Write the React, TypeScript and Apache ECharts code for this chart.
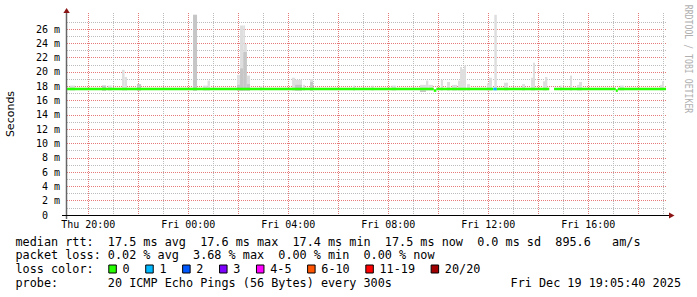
import React, { useEffect, useRef } from 'react';
import * as echarts from 'echarts';

// ---- axis extents (hours since Thu 00:00, seconds in ms) ----
const X_MIN = 19.148;
const X_MAX = 43.148;
const Y_MAX = 28.25;

const xLabelHours = [20, 24, 28, 32, 36, 40];
const xTickLabels = ['Thu 20:00', 'Fri 00:00', 'Fri 04:00', 'Fri 08:00', 'Fri 12:00', 'Fri 16:00'];
const xMajorGridHours = [20, 22, 24, 26, 28, 30, 32, 34, 36, 38, 40, 42];
const xMinorGridHours = [21, 23, 25, 27, 29, 31, 33, 35, 37, 39, 41, 43];

const yLabelValues = [0, 2, 4, 6, 8, 10, 12, 14, 16, 18, 20, 22, 24, 26];
const yTickLabels = ['0  ', '2 m', '4 m', '6 m', '8 m', '10 m', '12 m', '14 m', '16 m', '18 m', '20 m', '22 m', '24 m', '26 m'];
const yMinorGridValues = [1, 3, 5, 7, 9, 11, 13, 15, 17, 19, 21, 23, 25, 27];

// ---- loss colours ----
const lossColors = ['#26ff00', '#00b8ff', '#0059ff', '#7e00ff', '#ff00ff', '#ff5500', '#ff0000', '#a10000'];
const lossLabels = ['0', '1', '2', '3', '4-5', '6-10', '11-19', '20/20'];

// ---- median rtt segments: [start h, end h, median ms, loss colour index] ----
const medianSegments: [number, number, number, number][] = [
  [19.15, 33.82, 17.62, 0],
  [33.82, 33.92, 17.4, 0],
  [33.92, 36.2, 17.62, 0],
  [36.2, 36.34, 17.62, 1],
  [36.34, 38.44, 17.62, 0],
  [38.63, 41.1, 17.62, 0],
  [41.1, 41.18, 17.4, 0],
  [41.18, 43.11, 17.62, 0],
];

// ---- smoke: [start h, end h, low ms, inner ms, high ms] ----
const smokeBands: [number, number, number, number, number][] = [
  [19.27, 19.47, 17.4, 17.4, 18.1],
  [20.55, 20.71, 17.4, 18.1, 18.1],
  [20.79, 20.95, 17.4, 17.4, 18.1],
  [21.35, 21.45, 17.4, 17.4, 20.3],
  [21.45, 21.55, 17.4, 17.4, 19.3],
  [21.95, 22.11, 17.4, 18.3, 18.3],
  [24.19, 24.35, 17.4, 28.0, 28.0],
  [24.59, 24.77, 17.4, 17.4, 18.1],
  [24.77, 24.87, 17.4, 17.4, 18.8],
  [25.95, 26.07, 17.4, 18.2, 19.6],
  [26.07, 26.2, 17.4, 20.5, 26.5],
  [26.2, 26.27, 17.4, 22.8, 26.5],
  [26.27, 26.34, 17.4, 22.8, 23.9],
  [26.34, 26.47, 17.4, 18.3, 19.5],
  [26.87, 26.95, 17.4, 17.4, 18.0],
  [28.15, 28.27, 17.4, 17.4, 19.2],
  [28.27, 28.55, 17.4, 18.2, 18.9],
  [28.59, 28.67, 17.4, 17.4, 18.2],
  [28.87, 28.99, 17.4, 18.6, 19.0],
  [30.59, 30.67, 17.4, 17.4, 18.1],
  [31.33, 31.41, 17.4, 17.4, 18.1],
  [32.13, 32.31, 17.4, 17.4, 18.1],
  [33.27, 33.51, 17.2, 17.4, 18.2],
  [33.51, 33.6, 17.4, 17.4, 18.8],
  [33.6, 33.79, 17.4, 17.4, 18.2],
  [34.1, 34.19, 17.4, 17.4, 18.9],
  [34.35, 34.47, 17.4, 17.4, 18.6],
  [34.55, 34.75, 17.4, 17.4, 18.2],
  [34.79, 34.87, 17.4, 17.4, 18.8],
  [34.87, 34.95, 17.4, 17.4, 20.7],
  [34.95, 35.03, 17.4, 17.4, 20.4],
  [35.03, 35.11, 17.4, 17.4, 20.9],
  [35.15, 35.27, 17.4, 17.4, 18.3],
  [35.95, 36.03, 17.4, 17.4, 18.4],
  [36.03, 36.15, 17.4, 17.4, 19.2],
  [36.24, 36.34, 17.4, 17.4, 28.0],
  [36.63, 36.79, 17.4, 17.4, 18.5],
  [37.35, 37.47, 17.4, 17.4, 18.3],
  [37.71, 37.79, 17.4, 17.4, 19.2],
  [37.79, 37.87, 17.4, 17.4, 21.3],
  [38.19, 38.27, 17.4, 17.4, 18.7],
  [38.27, 38.36, 17.4, 17.4, 19.3],
  [38.87, 38.95, 17.4, 17.4, 18.1],
  [39.27, 39.35, 17.4, 17.4, 19.5],
  [39.55, 39.63, 17.4, 17.4, 18.2],
  [39.63, 39.75, 17.4, 17.4, 18.6],
  [41.27, 41.43, 17.4, 17.4, 18.1],
  [42.87, 42.95, 17.4, 17.4, 18.2],
  [42.95, 43.03, 17.4, 17.4, 18.7],
];

// ---- legend texts ----
const rttLine = 'median rtt:  17.5 ms avg  17.6 ms max  17.4 ms min  17.5 ms now  0.0 ms sd  895.6   am/s';
const lossLine = 'packet loss: 0.02 % avg  3.68 % max  0.00 % min  0.00 % now';
const lossColorTitle = 'loss color:';
const probeLine = 'probe:       20 ICMP Echo Pings (56 Bytes) every 300s';
const dateLine = 'Fri Dec 19 19:05:40 2025';
const yAxisTitle = 'Seconds';
const watermark = 'RRDTOOL / TOBI OETIKER';

const MONO = '"DejaVu Sans Mono", monospace';
const LEGEND_FONT = `11.8px ${MONO}`;
const SMOKE_LIGHT = '#dedede';
const SMOKE_MID = '#c6c6c6';
const MGRID = '#e67a7a';
const GRID = '#bcbcbc';

function buildGraphic() {
  const els: any[] = [];
  els.push({ type: 'line', z: 100, shape: { x1: 66.5, y1: 219, x2: 66.5, y2: 11 }, style: { stroke: '#666', lineWidth: 1.5 } });
  els.push({ type: 'line', z: 100, shape: { x1: 62, y1: 215.5, x2: 670, y2: 215.5 }, style: { stroke: '#000', lineWidth: 1.2 } });
  els.push({ type: 'polygon', z: 101, shape: { points: [[66.6, 8], [63.4, 13], [69.8, 13]] }, style: { fill: '#8b1414' } });
  els.push({ type: 'polygon', z: 101, shape: { points: [[669, 212.5], [674.5, 215.5], [669, 218.5]] }, style: { fill: '#8b1414' } });
  els.push({
    type: 'text', x: 10, y: 114, rotation: Math.PI / 2,
    style: { text: yAxisTitle, font: '11px "DejaVu Sans", sans-serif', fill: '#000', textAlign: 'center', textVerticalAlign: 'middle', align: 'center', verticalAlign: 'middle' },
  });
  els.push({
    type: 'text', x: 689, y: 59, rotation: -Math.PI / 2, scaleY: 1.35,
    style: { text: watermark, font: `8.2px ${MONO}`, fill: '#b0b0b0', textAlign: 'center', textVerticalAlign: 'middle', align: 'center', verticalAlign: 'middle' },
  });
  const tx = (text: string, x: number, y: number, align = 'left') => ({
    type: 'text', x, y,
    style: { text, font: LEGEND_FONT, fill: '#000', textAlign: align, textVerticalAlign: 'middle', align, verticalAlign: 'middle' },
  });
  els.push(tx(rttLine, 15.5, 241.5));
  els.push(tx(lossLine, 15.5, 255.2));
  els.push(tx(lossColorTitle, 15.5, 268.9));
  els.push(tx(probeLine, 15.5, 282.6));
  els.push(tx(dateLine, 681, 282.6, 'right'));
  let bx = 108.3;
  lossLabels.forEach((lab, i) => {
    els.push({ type: 'rect', shape: { x: bx + 0.5, y: 265, width: 7.5, height: 8 }, style: { fill: lossColors[i], stroke: '#000', lineWidth: 1 } });
    els.push(tx(lab, bx + 14.2, 268.9));
    bx += (lab.length + 4.2) * 7.1;
  });
  return els;
}

export default function App() {
  const ref = useRef<HTMLDivElement>(null);
  useEffect(() => {
    if (!ref.current) return;
    const chart = echarts.init(ref.current, null, { renderer: 'svg' });
    const gridLine = (color: string) => ({ show: true, lineStyle: { color, width: 1, type: [1, 1], opacity: 1 } });
    const option: any = {
      animation: false,
      backgroundColor: '#ffffff',
      grid: { left: 67, top: 13, width: 600, height: 202, containLabel: false },
      xAxis: [
        {
          type: 'value', position: 'bottom', min: X_MIN, max: X_MAX,
          axisLine: { show: false },
          axisTick: { show: false, customValues: xMajorGridHours },
          axisLabel: {
            customValues: xLabelHours,
            formatter: (v: number) => xTickLabels[xLabelHours.indexOf(v)] ?? '',
            fontFamily: MONO, fontSize: 10, color: '#000', margin: 4,
          },
          splitLine: gridLine(MGRID),
        },
        {
          type: 'value', position: 'top', min: X_MIN, max: X_MAX,
          axisLine: { show: false },
          axisTick: { show: false, customValues: xMinorGridHours },
          axisLabel: { show: false },
          splitLine: gridLine(GRID),
        },
      ],
      yAxis: [
        {
          type: 'value', position: 'left', min: 0, max: Y_MAX,
          axisLine: { show: false },
          axisTick: { show: false, customValues: yLabelValues },
          axisLabel: {
            customValues: yLabelValues,
            formatter: (v: number) => yTickLabels[yLabelValues.indexOf(v)] ?? '',
            fontFamily: MONO, fontSize: 10, color: '#000', margin: 7,
          },
          splitLine: gridLine(MGRID),
        },
        {
          type: 'value', position: 'right', min: 0, max: Y_MAX,
          axisLine: { show: false },
          axisTick: { show: false, customValues: yMinorGridValues },
          axisLabel: { show: false },
          splitLine: gridLine(GRID),
        },
      ],
      series: [
        {
          type: 'custom', name: 'smoke', xAxisIndex: 0, yAxisIndex: 0, z: 2,
          data: smokeBands,
          encode: { x: [0, 1], y: [2, 3, 4] },
          renderItem: (_p: any, api: any) => {
            const t0 = api.value(0), t1 = api.value(1), lo = api.value(2), mid = api.value(3), hi = api.value(4);
            const a = api.coord([t0, lo]);
            const b = api.coord([t1, hi]);
            const m = api.coord([t1, mid]);
            const children: any[] = [
              { type: 'rect', shape: { x: a[0], y: b[1], width: b[0] - a[0], height: a[1] - b[1] }, style: { fill: SMOKE_LIGHT } },
            ];
            if (mid > lo) {
              children.push({ type: 'rect', shape: { x: a[0], y: m[1], width: b[0] - a[0], height: a[1] - m[1] }, style: { fill: SMOKE_MID } });
            }
            return { type: 'group', children };
          },
        },
        {
          type: 'custom', name: 'median rtt', xAxisIndex: 0, yAxisIndex: 0, z: 3,
          data: medianSegments,
          encode: { x: [0, 1], y: 2 },
          renderItem: (_p: any, api: any) => {
            const a = api.coord([api.value(0), api.value(2)]);
            const b = api.coord([api.value(1), api.value(2)]);
            return {
              type: 'rect',
              shape: { x: a[0], y: a[1] - 1.3, width: b[0] - a[0], height: 2.6 },
              style: { fill: lossColors[api.value(3)] },
            };
          },
        },
      ],
      graphic: { elements: buildGraphic() },
    };
    chart.setOption(option);
    return () => chart.dispose();
  }, []);
  return (
    <>
      <style>{'#rrdchart svg text{white-space:pre}'}</style>
      <div id="rrdchart" ref={ref} style={{ position: 'fixed', left: 0, top: 0, width: 697, height: 297, background: '#fff' }} />
    </>
  );
}
